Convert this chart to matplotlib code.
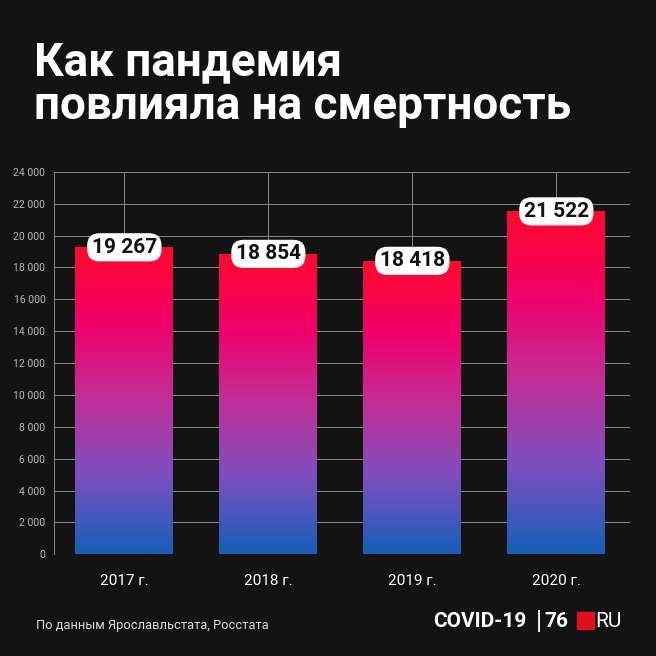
import numpy as np
import matplotlib.pyplot as plt
from matplotlib.colors import LinearSegmentedColormap
from matplotlib.patches import Rectangle

years = ['2017 г.', '2018 г.', '2019 г.', '2020 г.']
deaths = [19267, 18854, 18418, 21522]
label_text = ['19 267', '18 854', '18 418', '21 522']
yticks = list(range(0, 24001, 2000))

plt.rcParams['font.family'] = 'Roboto'
BG = '#131313'

cmap = LinearSegmentedColormap.from_list(
    'pand', ['#1560b8', '#7a4fc0', '#c0309a', '#f0006a', '#ff0a2c'])

fig = plt.figure(figsize=(6.56, 6.56), dpi=100, facecolor=BG)
ax = fig.add_axes([0.082, 0.155, 0.878, 0.583], facecolor=BG)

x = np.arange(len(years))
w = 0.68
bars = ax.bar(x, deaths, width=w, color='none', zorder=3)
grad = np.linspace(0, 1, 256).reshape(-1, 1)
for b, v in zip(bars, deaths):
    im = ax.imshow(grad, cmap=cmap, origin='lower', aspect='auto',
                   extent=[b.get_x(), b.get_x() + w, 0, v], zorder=3)
    im.set_clip_path(b)

for xi, v, t in zip(x, deaths, label_text):
    ax.text(xi, v, t, ha='center', va='center', fontsize=15, fontweight='bold',
            color='#111111', zorder=5,
            bbox=dict(boxstyle='round,pad=0.22,rounding_size=0.6', fc='white', ec='none'))

ax.set_xlim(-0.49, 3.51)
ax.set_ylim(0, 24000)
ax.set_yticks(yticks)
ax.set_yticklabels([f'{t:,}'.replace(',', ' ') for t in yticks], fontsize=7.5, color='#bbbbbb')
ax.set_xticks(x)
ax.set_xticklabels(years, fontsize=11, color='white')
ax.tick_params(length=0, pad=6)
ax.tick_params(axis='x', pad=14)
ax.grid(color='#8a8a8a', linewidth=0.7, zorder=0)
for s in ax.spines.values():
    s.set_visible(False)
ax.spines['left'].set_visible(True)
ax.spines['left'].set_color('#8a8a8a')
ax.spines['left'].set_linewidth(0.7)

fig.text(0.052, 0.905, 'Как пандемия', fontsize=33, fontweight='bold', color='white', va='center')
fig.text(0.052, 0.838, 'повлияла на смертность', fontsize=33, fontweight='bold', color='white', va='center')
fig.text(0.055, 0.047, 'По данным Ярославльстата, Росстата', fontsize=9.3, color='#dddddd', va='center')
fig.text(0.66, 0.052, 'COVID-19', fontsize=15, fontweight='bold', color='white', va='center')
fig.text(0.817, 0.052, '|', fontsize=18, color='white', va='center')
fig.text(0.83, 0.052, '76', fontsize=15, fontweight='bold', color='white', va='center')
fig.add_artist(Rectangle((0.88, 0.041), 0.026, 0.026, transform=fig.transFigure, color='#e0101e'))
fig.text(0.907, 0.052, 'RU', fontsize=15, color='white', va='center')

fig.savefig('out.png', dpi=100, facecolor=BG)
